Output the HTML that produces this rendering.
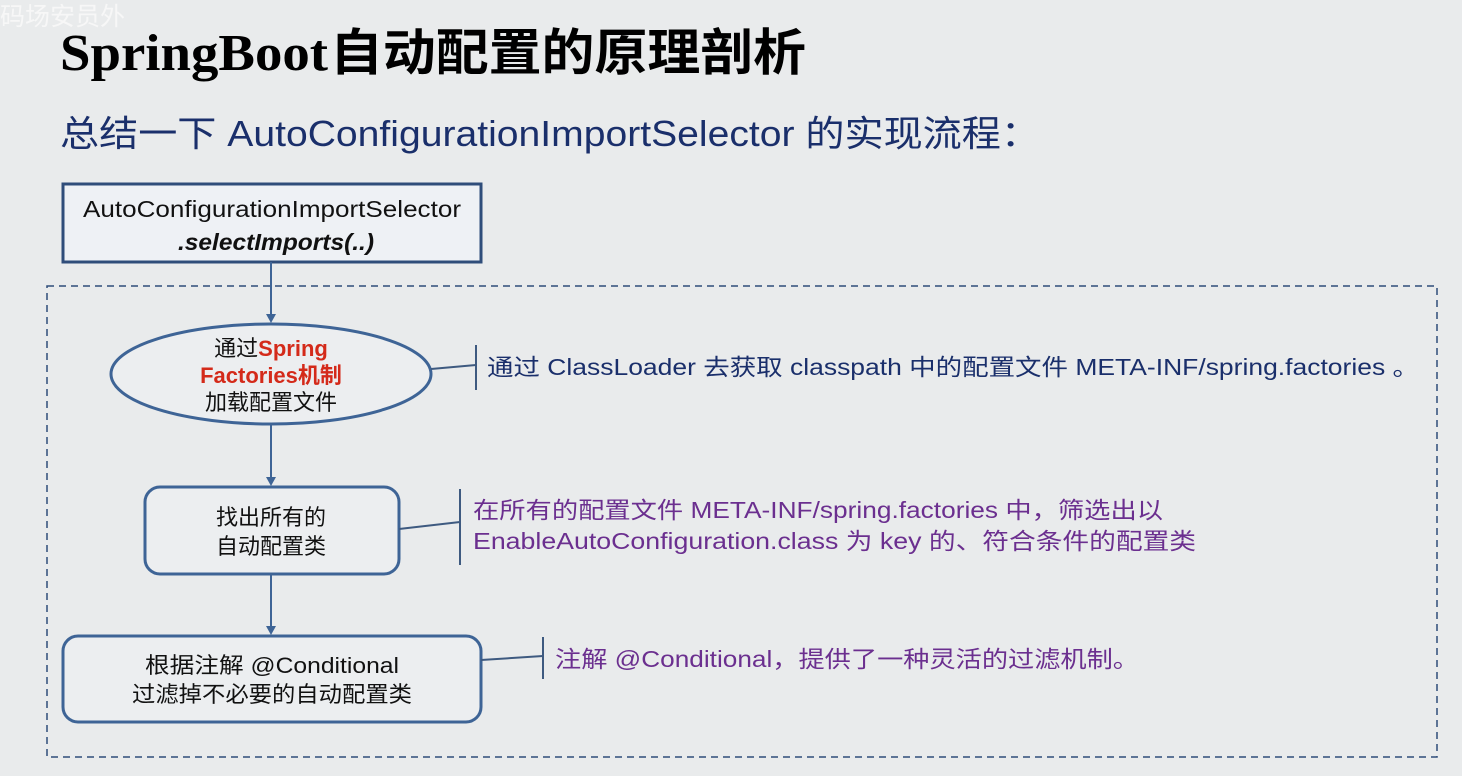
<!DOCTYPE html>
<html><head><meta charset="utf-8"><style>
html,body{margin:0;padding:0;background:#e9ebec;}
svg{display:block}
</style></head><body>
<svg width="1462" height="776" viewBox="0 0 1462 776" xmlns="http://www.w3.org/2000/svg" style="font-family:'Liberation Sans','Noto Sans CJK SC',sans-serif">
<rect width="1462" height="776" fill="#e9ebec"/>
<text x="0" y="25" font-size="25" fill="#f7f7f7">码场安员外</text>
<text x="60" y="70" font-size="52" font-weight="bold" fill="#000" style="font-family:'Liberation Serif',serif" textLength="268" lengthAdjust="spacingAndGlyphs">SpringBoot</text>
<text x="330" y="70" font-size="50" font-weight="bold" fill="#000" style="font-family:'Noto Sans CJK SC',sans-serif" textLength="476" lengthAdjust="spacingAndGlyphs">自动配置的原理剖析</text>
<text x="60" y="146" font-size="36" fill="#1a2f6b" textLength="980" lengthAdjust="spacingAndGlyphs">总结一下 AutoConfigurationImportSelector 的实现流程：</text>

<rect x="47" y="286" width="1390" height="471" fill="none" stroke="#2f4d7a" stroke-width="1.5" stroke-dasharray="7,5"/>

<rect x="63" y="184" width="418" height="78" fill="#eef1f5" stroke="#2f4d7a" stroke-width="3"/>
<text x="272" y="217" font-size="23" text-anchor="middle" fill="#111" textLength="378" lengthAdjust="spacingAndGlyphs">AutoConfigurationImportSelector</text>
<text x="276" y="250" font-size="23" text-anchor="middle" fill="#111" font-weight="bold" font-style="italic" textLength="196" lengthAdjust="spacingAndGlyphs">.selectImports(..)</text>

<g stroke="#3e6496" stroke-width="2" fill="#3e6496">
<line x1="271" y1="262" x2="271" y2="315"/><polygon points="266,314 276,314 271,323" stroke="none"/>
<line x1="271" y1="425" x2="271" y2="478"/><polygon points="266,477 276,477 271,486" stroke="none"/>
<line x1="271" y1="574" x2="271" y2="627"/><polygon points="266,626 276,626 271,635" stroke="none"/>
</g>

<ellipse cx="271" cy="374" rx="160" ry="50" fill="#eceef0" stroke="#3e6496" stroke-width="3"/>
<text x="271" y="356" font-size="22" text-anchor="middle" fill="#111">通过<tspan fill="#d42a1a" font-weight="bold">Spring</tspan></text>
<text x="271" y="383" font-size="22" text-anchor="middle" fill="#d42a1a" font-weight="bold">Factories机制</text>
<text x="271" y="410" font-size="22" text-anchor="middle" fill="#111">加载配置文件</text>

<rect x="145" y="487" width="254" height="87" rx="15" fill="#eceef0" stroke="#3e6496" stroke-width="3"/>
<text x="271" y="525" font-size="22" text-anchor="middle" fill="#111">找出所有的</text>
<text x="271" y="554" font-size="22" text-anchor="middle" fill="#111">自动配置类</text>

<rect x="63" y="636" width="418" height="86" rx="15" fill="#eceef0" stroke="#3e6496" stroke-width="3"/>
<text x="272" y="673" font-size="22" text-anchor="middle" fill="#111" textLength="254" lengthAdjust="spacingAndGlyphs">根据注解 @Conditional</text>
<text x="272" y="702" font-size="22" text-anchor="middle" fill="#111" textLength="280" lengthAdjust="spacingAndGlyphs">过滤掉不必要的自动配置类</text>

<g stroke="#3e5a80" stroke-width="2">
<line x1="431" y1="369" x2="476" y2="365"/><line x1="476" y1="345" x2="476" y2="390"/>
<line x1="399" y1="529" x2="460" y2="522"/><line x1="460" y1="489" x2="460" y2="565"/>
<line x1="481" y1="660" x2="543" y2="656"/><line x1="543" y1="637" x2="543" y2="679"/>
</g>
<text x="487" y="375" font-size="23" fill="#1a2f6b" textLength="932" lengthAdjust="spacingAndGlyphs">通过 ClassLoader 去获取 classpath 中的配置文件 META-INF/spring.factories 。</text>
<text x="473" y="518" font-size="23" fill="#6b2f8f" textLength="690" lengthAdjust="spacingAndGlyphs">在所有的配置文件 META-INF/spring.factories 中，筛选出以</text>
<text x="473" y="549" font-size="23" fill="#6b2f8f" textLength="723" lengthAdjust="spacingAndGlyphs">EnableAutoConfiguration.class 为 key 的、符合条件的配置类</text>
<text x="555" y="667" font-size="23" fill="#6b2f8f" textLength="584" lengthAdjust="spacingAndGlyphs">注解 @Conditional，提供了一种灵活的过滤机制。</text>
</svg>
</body></html>
